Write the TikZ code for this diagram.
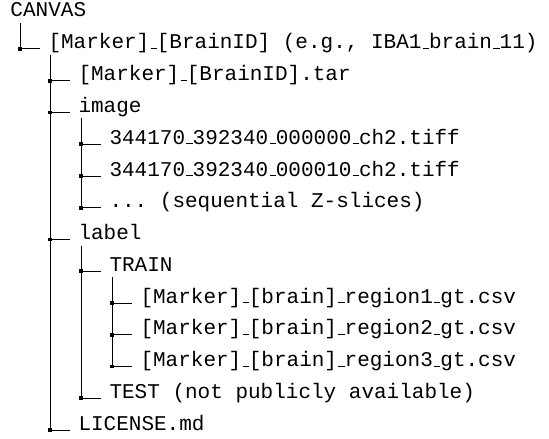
\documentclass[tikz,border=0pt]{standalone}
\usepackage{fontspec}
\setmonofont{Liberation Mono}
\usepackage{tikz}
\usetikzlibrary{calc}
% short rule underscore, as in the classic typewriter listing
\newcommand\us{\kern.06em\vbox{\hrule width.3em}}
% one branch of the tree: parent, child, offset of the trunk
\newcommand\branch[3]{%
 \draw[treeline] (#1.base west) ++(#3,6)
  |- node[joint] {} ($(#2.base west)+(-8,0)$);}
\tikzset{every picture/.style={line width=.5pt}}

\begin{document}
\begin{tikzpicture}[x=.5pt,y=-.5pt,
 entry/.style={anchor=base west,inner sep=0pt,
  font=\ttfamily\fontsize{10.5}{12}\selectfont},
 treeline/.style={black,line width=.5pt},
 joint/.style={pos=.5,fill=black,shape=rectangle,inner sep=0pt,
  minimum size=1.8pt}]
 \useasboundingbox (0,0) rectangle (549,438);

 % root and first level
 \node[entry] (canvas) at (10,17) {CANVAS};
 \node[entry] (bid) at (48,49) {[Marker]\us[BrainID] (e.g., IBA1\us brain\us11)};
 \node[entry] (tar) at (78,80.75) {[Marker]\us[BrainID].tar};
 \node[entry] (image) at (78,112.5) {image};
 \node[entry] (label) at (78,239.5) {label};
 \node[entry] (license) at (78,430) {LICENSE.md};

 % image slices
 \node[entry] (tiffa) at (109,144.25) {344170\us392340\us000000\us ch2.tiff};
 \node[entry] (tiffb) at (109,176) {344170\us392340\us000010\us ch2.tiff};
 \node[entry] (slices) at (109,207.75) {... (sequential Z-slices)};

 % label folders
 \node[entry] (train) at (109,271.25) {TRAIN};
 \node[entry] (rega) at (140,303) {[Marker]\us[brain]\us region1\us gt.csv};
 \node[entry] (regb) at (140,334.75) {[Marker]\us[brain]\us region2\us gt.csv};
 \node[entry] (regc) at (140,366.5) {[Marker]\us[brain]\us region3\us gt.csv};
 \node[entry] (test) at (109,398.25) {TEST (not publicly available)};

 % branches
 \branch{canvas}{bid}{10}
 \branch{bid}{tar}{2}
 \branch{bid}{image}{2}
 \branch{bid}{label}{2}
 \branch{bid}{license}{2}
 \branch{image}{tiffa}{3}
 \branch{image}{tiffb}{3}
 \branch{image}{slices}{3}
 \branch{label}{train}{3}
 \branch{label}{test}{3}
 \branch{train}{rega}{3}
 \branch{train}{regb}{3}
 \branch{train}{regc}{3}
\end{tikzpicture}
\end{document}
